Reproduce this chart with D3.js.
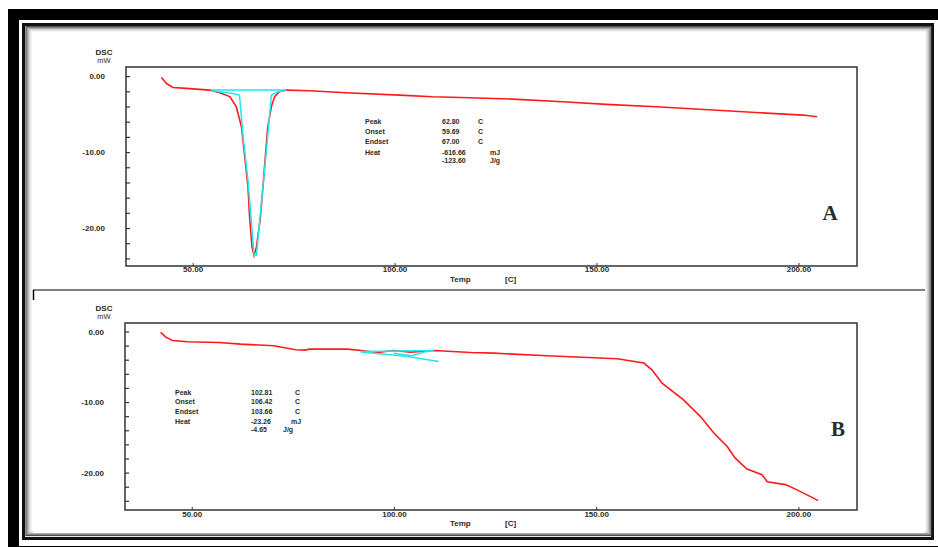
<!DOCTYPE html>
<html>
<head>
<meta charset="utf-8">
<script src="https://cdn.jsdelivr.net/npm/d3@7"></script>
<style>
  body { margin: 0; background: #fff; }
  svg { display: block; }
  text { font-family: "Liberation Sans", Arial, sans-serif; fill: #2a2a2a; }
</style>
</head>
<body>
<svg width="938" height="547"></svg>
<script>
// panel A : red DSC trace
var tempA = [42.3, 43.5, 45.1, 48.4, 54.2, 56.7, 59.2, 60.8, 62.1, 62.9, 63.7, 64.1, 64.7, 65.2,
             65.8, 66.8, 67.4, 68.0, 68.6, 69.5, 70.3, 71.5, 73.2, 79.0, 88.0, 101.2, 109.4, 118.6,
             129.2, 141.6, 152.4, 164.8, 178.8, 189.5, 201.1, 204.6];
var dscA  = [-0.17, -0.96, -1.49, -1.62, -1.84, -2.2, -2.7, -4.0, -6.7, -10.6, -14.6, -18.5, -22.5, -23.6,
             -22.5, -18.5, -14.6, -10.6, -6.7, -4.0, -2.7, -2.06, -1.84, -1.93, -2.2, -2.5, -2.72, -2.85,
             -3.03, -3.38, -3.72, -4.04, -4.47, -4.8, -5.13, -5.35];
// panel A : cyan integration
var peakTempA = [54.7, 59.9, 61.6, 62.5, 63.7, 64.5, 65.2, 65.8, 67.0, 68.2, 69.1, 69.5, 71.1, 72.8];
var peakDscA  = [-1.93, -2.28, -2.5, -8.0, -13.7, -18.9, -23.6, -23.6, -16.8, -10.2, -4.9, -2.5, -2.07, -1.93];
var baseTempA = [54.7, 73.2];
var baseDscA  = [-1.84, -1.84];

// panel B : red DSC trace
var tempB = [42.3, 43.6, 45.2, 48.9, 56.8, 62.1, 70.3, 75.7, 78.2, 79.0, 88.5, 92.6, 95.9, 100.0,
             104.1, 109.9, 119.0, 124.7, 137.9, 155.2, 161.8, 163.8, 166.3, 171.6, 175.8, 179.1,
             182.4, 184.4, 187.3, 191.0, 192.3, 196.8, 199.7, 203.0, 204.9];
var dscB  = [-0.14, -0.8, -1.27, -1.46, -1.56, -1.79, -2.03, -2.6, -2.64, -2.5, -2.5, -2.74, -2.98, -2.69,
             -2.92, -2.69, -2.98, -3.07, -3.45, -3.87, -4.48, -5.43, -7.32, -9.69, -12.06, -14.4,
             -16.3, -17.96, -19.5, -20.3, -21.3, -21.7, -22.45, -23.4, -23.97];
// panel B : cyan integration lines
var cyanTempB = [[91.8, 109.9], [91.8, 103.0, 111.1], [100.0, 104.5, 108.5]];
var cyanDscB  = [[-2.84, -2.70], [-2.9, -3.5, -4.26], [-3.1, -3.45, -2.75]];

// axis ticks
var xTicks = [50, 100, 150, 200];
var yTicks = d3.range(0, -25, -2);
var yLabelTicks = [0, -10, -20];

// annotation text
var statNames = ["Peak", "Onset", "Endset", "Heat"];
var statsA = ["62.80", "59.69", "67.00", "-616.66", "-123.60"];
var unitsA = ["C", "C", "C", "mJ", "J/g"];
var statsB = ["102.81", "106.42", "103.66", "-23.26", "-4.65"];
var unitsB = ["C", "C", "C", "mJ", "J/g"];

var svg = d3.select("svg");

// ---- photo frame ----
svg.append("rect").attr("x", 13.5).attr("y", 14.5).attr("width", 940).attr("height", 537)
  .attr("fill", "none").attr("stroke", "#000").attr("stroke-width", 11);
svg.append("rect").attr("x", 23.5).attr("y", 24.5).attr("width", 909).attr("height", 514)
  .attr("fill", "none").attr("stroke", "#111").attr("stroke-width", 3);
var grays = ["#444", "#777", "#999", "#bbb", "#d6d6d6", "#ececec"];
grays.forEach(function(c, i) {
  svg.append("rect").attr("x", 26 + i).attr("y", 26.5 + i * 0.9)
    .attr("width", 905 - 2 * i).attr("height", 509 - 1.8 * i)
    .attr("fill", "none").attr("stroke", c).attr("stroke-width", 1.2);
});
svg.append("rect").attr("x", 33).attr("y", 32).attr("width", 892).attr("height", 501).attr("fill", "#fff");
svg.append("line").attr("x1", 33).attr("x2", 925).attr("y1", 290).attr("y2", 290)
  .attr("stroke", "#555").attr("stroke-width", 1.5);
svg.append("line").attr("x1", 33.5).attr("x2", 33.5).attr("y1", 290).attr("y2", 300)
  .attr("stroke", "#000").attr("stroke-width", 1.5);

function fmt(v) { return v.toFixed(2); }

function panel(cfg) {
  var x = d3.scaleLinear().domain([33.5, 214.5]).range([cfg.left, cfg.right]);
  var y = d3.scaleLinear().domain(cfg.yDomain).range([cfg.bottom, cfg.top]);
  var g = svg.append("g");

  g.append("rect").attr("x", cfg.left).attr("y", cfg.top)
    .attr("width", cfg.right - cfg.left).attr("height", cfg.bottom - cfg.top)
    .attr("fill", "none").attr("stroke", "#333").attr("stroke-width", 1.5);

  // y axis
  var ya = g.append("g").attr("transform", "translate(" + cfg.left + ",0)")
    .call(d3.axisLeft(y).tickValues(yTicks).tickSizeInner(-4).tickSizeOuter(0).tickPadding(21)
      .tickFormat(function(d) { return yLabelTicks.indexOf(d) >= 0 ? fmt(d) : ""; }));
  ya.select(".domain").remove();
  ya.selectAll("line").attr("stroke", "#333").attr("stroke-width", 1.2);
  ya.selectAll("text").style("font-size", "8px").style("font-weight", "bold")
    .style("font-family", "Liberation Sans, Arial").attr("fill", "#333");

  // x axis
  var xa = g.append("g").attr("transform", "translate(0," + cfg.bottom + ")")
    .call(d3.axisBottom(x).tickValues(xTicks).tickSizeInner(-3).tickSizeOuter(0).tickPadding(cfg.xPad).tickFormat(fmt));
  xa.select(".domain").remove();
  xa.selectAll("line").attr("stroke", "#333");
  xa.selectAll("text").style("font-size", "8px").style("font-weight", "bold")
    .style("font-family", "Liberation Sans, Arial").attr("fill", "#333");

  // axis titles
  g.append("text").attr("x", 104).attr("y", cfg.top - 12).attr("text-anchor", "middle")
    .style("font-size", "8px").style("font-weight", "bold").text("DSC");
  g.append("text").attr("x", 104).attr("y", cfg.top - 4).attr("text-anchor", "middle")
    .style("font-size", "7.5px").text("mW");
  g.append("text").attr("x", 450).attr("y", cfg.bottom + 15.5)
    .style("font-size", "8px").style("font-weight", "bold").text("Temp");
  g.append("text").attr("x", 505).attr("y", cfg.bottom + 15.5)
    .style("font-size", "8px").style("font-weight", "bold").text("[C]");

  var line = d3.line().x(function(d) { return x(d[0]); }).y(function(d) { return y(d[1]); });

  g.append("path").datum(d3.zip(cfg.temp, cfg.dsc)).attr("d", line)
    .attr("fill", "none").attr("stroke", "#ff1a1a").attr("stroke-width", 1.6);
  cfg.cyan.forEach(function(c) {
    g.append("path").datum(d3.zip(c[0], c[1])).attr("d", line)
      .attr("fill", "none").attr("stroke", "#1ee8f0").attr("stroke-width", 1.5);
  });

  // result annotation
  var ann = g.append("g").style("font-size", "7px").style("font-weight", "bold");
  statNames.forEach(function(s, i) {
    var yy = cfg.annY + i * cfg.annStep + (i == 3 ? 1 : 0);
    ann.append("text").attr("x", cfg.annX[0]).attr("y", yy).text(s);
    ann.append("text").attr("x", cfg.annX[1]).attr("y", yy).text(cfg.stats[i]);
    ann.append("text").attr("x", i < 3 ? cfg.annX[2] : cfg.annX[3]).attr("y", yy).text(cfg.units[i]);
  });
  var y5 = cfg.annY + 3 * cfg.annStep + 1 + cfg.annStep * 0.85;
  ann.append("text").attr("x", cfg.annX[1]).attr("y", y5).text(cfg.stats[4]);
  ann.append("text").attr("x", cfg.annX[4]).attr("y", y5).text(cfg.units[4]);

  g.append("text").attr("x", cfg.letter[0]).attr("y", cfg.letter[1]).attr("text-anchor", "middle")
    .style("font-family", "Liberation Serif, Times New Roman, serif").style("font-size", "21px")
    .style("font-weight", "bold").attr("fill", "#000").text(cfg.name);
}

panel({
  name: "A", left: 126, right: 857, top: 67, bottom: 266, yDomain: [-25, 1.2], xPad: 0,
  temp: tempA, dsc: dscA,
  cyan: [[baseTempA, baseDscA], [peakTempA, peakDscA]],
  stats: statsA, units: unitsA, annX: [365, 442, 478, 490, 490], annY: 123.5, annStep: 10,
  letter: [830, 220]
});

panel({
  name: "B", left: 125, right: 857, top: 323, bottom: 510, yDomain: [-25.3, 1.2], xPad: 1,
  temp: tempB, dsc: dscB,
  cyan: d3.zip(cyanTempB, cyanDscB),
  stats: statsB, units: unitsB, annX: [175, 251, 295, 291, 283], annY: 394.5, annStep: 9.5,
  letter: [838, 436]
});
</script>
</body>
</html>
